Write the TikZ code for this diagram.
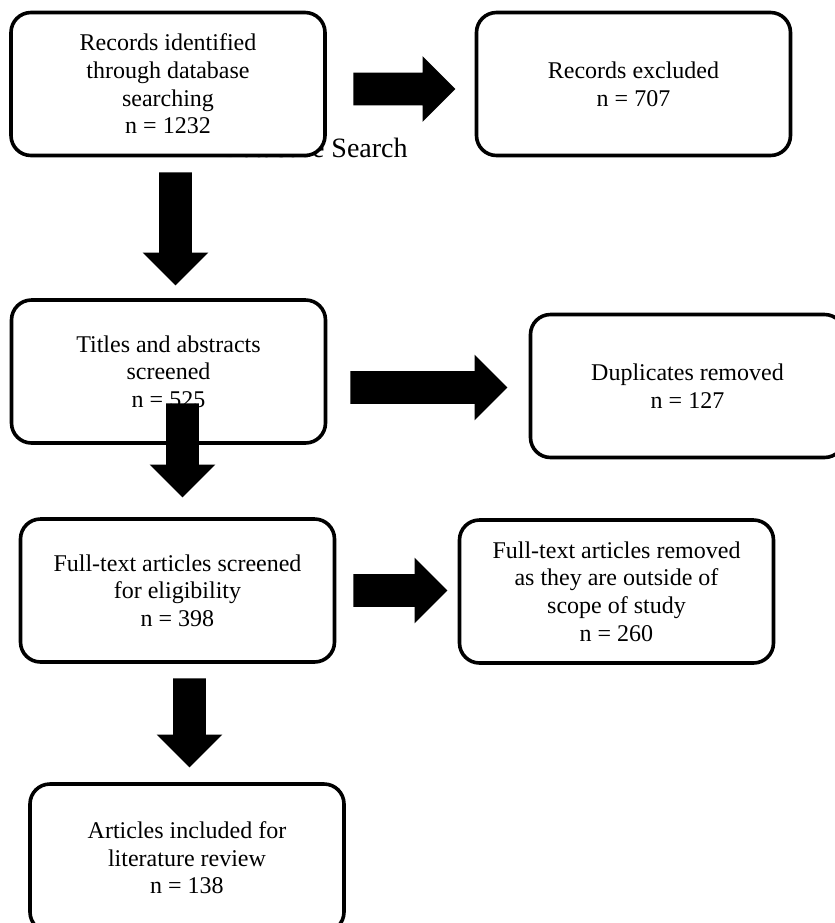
\documentclass[tikz,border=0pt]{standalone}
\usepackage{fontspec}
\setmainfont{Liberation Serif}
\usepackage{tikz}
\usetikzlibrary{shapes.arrows}

\begin{document}
\begin{tikzpicture}[x=0.5pt, y=-0.5pt,
    stage/.style={draw, line width=1.8pt, rounded corners=10pt, fill=white,
                  align=center, minimum width=157pt, minimum height=71.5pt,
                  font=\fontsize{12}{13.8}\selectfont},
    bigarrow/.style={single arrow, fill=black, draw=none, inner xsep=0pt, inner ysep=8pt,
                     minimum width=32.5pt, single arrow head extend=8.25pt, anchor=tail}]
  \useasboundingbox (0,0) rectangle (835,923);
  % --- heading, mostly hidden behind the first box -------------------------
  \node[anchor=base east, inner sep=0pt, font=\fontsize{14}{16}\selectfont] (head) at (408,157) {Database Search};
  % --- the stages ------------------------------------------------------------
  \node[stage] (ident)  at (168,84)      {Records identified\\through database\\searching\\n = 1232};
  \node[stage] (excl)   at (633.5,84)    {Records excluded\\n = 707};
  \node[stage] (screen) at (168.5,371.5) {Titles and abstracts\\screened\\n = 525};
  \node[stage] (dup)    at (687.5,386)   {Duplicates removed\\n = 127};
  \node[stage] (full)   at (177.5,590.5) {Full-text articles screened\\for eligibility\\n = 398};
  \node[stage] (scope)  at (616.5,591.5) {Full-text articles removed\\as they are outside of\\scope of study\\n = 260};
  \node[stage, minimum height=74pt] (incl) at (187,858) {Articles included for\\literature review\\n = 138};
  % --- block arrows (placed by their tails) ----------------------------------
  \node[bigarrow, minimum height=51pt] (a1) at (353,89) {};
  \node[bigarrow, minimum height=56.5pt, rotate=-90] (a2) at (175.5,172) {};
  \node[bigarrow, minimum height=47pt, rotate=-90] (a3) at (182.5,403) {};
  \node[bigarrow, minimum height=78.5pt] (a4) at (350,387.5) {};
  \node[bigarrow, minimum height=47pt] (a5) at (353,590.5) {};
  \node[bigarrow, minimum height=44.5pt, rotate=-90] (a6) at (189.5,678) {};
\end{tikzpicture}
\end{document}
